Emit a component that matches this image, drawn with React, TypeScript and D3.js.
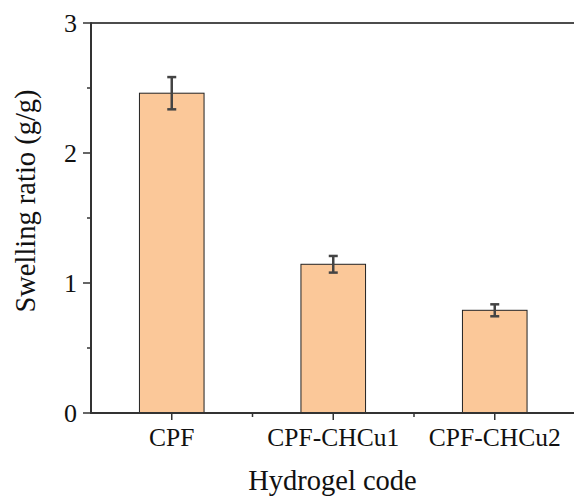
import * as d3 from "d3";

// data
const categories = ["CPF", "CPF-CHCu1", "CPF-CHCu2"];
const swelling = [2.46, 1.144, 0.79];
const errors = [0.124, 0.064, 0.046];
const yTicks = [0, 1, 2, 3];
const yMinorTicks = [0.5, 1.5, 2.5];

const W = 574;
const H = 496;
const margin = { top: 23, left: 91, bottom: 83 };
const plotRight = 575.5;

const font = '"Liberation Serif", "DejaVu Serif", serif';
const axisColor = "#333";

export default function App() {
  // x - 카테고리 band
  const x = d3
    .scaleBand<string>()
    .domain(categories)
    .range([margin.left, plotRight])
    .paddingInner(0.6)
    .paddingOuter(0.3);
  const step = x.step();

  // y - 팽윤비
  const y = d3.scaleLinear().domain([0, 3]).range([H - margin.bottom, margin.top]);

  const y0 = y(0);
  const yTop = y(3);
  const center = (c: string) => (x(c) as number) + x.bandwidth() / 2;

  return (
    <svg
      width={W}
      height={H}
      style={{ position: "absolute", left: 0, top: 0, background: "#fff", fontFamily: font }}
    >
      {/* bars */}
      {categories.map((c, i) => (
        <rect
          key={c}
          x={x(c)}
          y={y(swelling[i])}
          width={x.bandwidth()}
          height={y0 - y(swelling[i])}
          fill="#FBC899"
          stroke="#222"
          strokeWidth={1}
        />
      ))}

      {/* error bars */}
      {categories.map((c, i) => {
        const cx = center(c);
        const hi = y(swelling[i] + errors[i]);
        const lo = y(swelling[i] - errors[i]);
        return (
          <g key={c} stroke="#444" strokeWidth={2.5}>
            <line x1={cx} x2={cx} y1={hi} y2={lo} />
            <line x1={cx - 4.5} x2={cx + 4.5} y1={hi} y2={hi} />
            <line x1={cx - 4.5} x2={cx + 4.5} y1={lo} y2={lo} />
          </g>
        );
      })}

      {/* frame top */}
      <line x1={margin.left} x2={plotRight} y1={yTop} y2={yTop} stroke="#111" strokeWidth={1.5} />
      <line x1={plotRight} x2={plotRight} y1={yTop} y2={y0} stroke="#111" strokeWidth={1.5} />

      {/* y axis */}
      <line x1={margin.left} x2={margin.left} y1={yTop - 0.75} y2={y0 + 1} stroke={axisColor} strokeWidth={2} />
      {yTicks.map((t) => (
        <g key={t}>
          <line x1={margin.left - 8} x2={margin.left} y1={y(t)} y2={y(t)} stroke={axisColor} strokeWidth={1.5} />
          <text x={margin.left - 14} y={y(t)} dy="0.34em" textAnchor="end" fontSize={26} fill="#111">
            {t}
          </text>
        </g>
      ))}
      {yMinorTicks.map((t) => (
        <line key={t} x1={margin.left - 4} x2={margin.left} y1={y(t)} y2={y(t)} stroke={axisColor} strokeWidth={1.5} />
      ))}

      {/* x axis */}
      <line x1={margin.left - 1} x2={plotRight} y1={y0} y2={y0} stroke={axisColor} strokeWidth={2} />
      {categories.map((c) => (
        <g key={c}>
          <line x1={center(c)} x2={center(c)} y1={y0} y2={y0 + 7} stroke={axisColor} strokeWidth={1.5} />
          <text x={center(c)} y={446} textAnchor="middle" fontSize={25.5} fill="#111">
            {c}
          </text>
        </g>
      ))}
      {categories.slice(0, -1).map((c) => (
        <line
          key={c}
          x1={center(c) + step / 2}
          x2={center(c) + step / 2}
          y1={y0}
          y2={y0 + 4}
          stroke={axisColor}
          strokeWidth={1.5}
        />
      ))}

      {/* axis titles */}
      <text x={(246 + 419) / 2} y={490} textAnchor="middle" fontSize={28.5} fill="#111">
        Hydrogel code
      </text>
      <text transform={`translate(35, 201) rotate(-90)`} textAnchor="middle" fontSize={28.5} fill="#111">
        Swelling ratio (g/g)
      </text>
    </svg>
  );
}
